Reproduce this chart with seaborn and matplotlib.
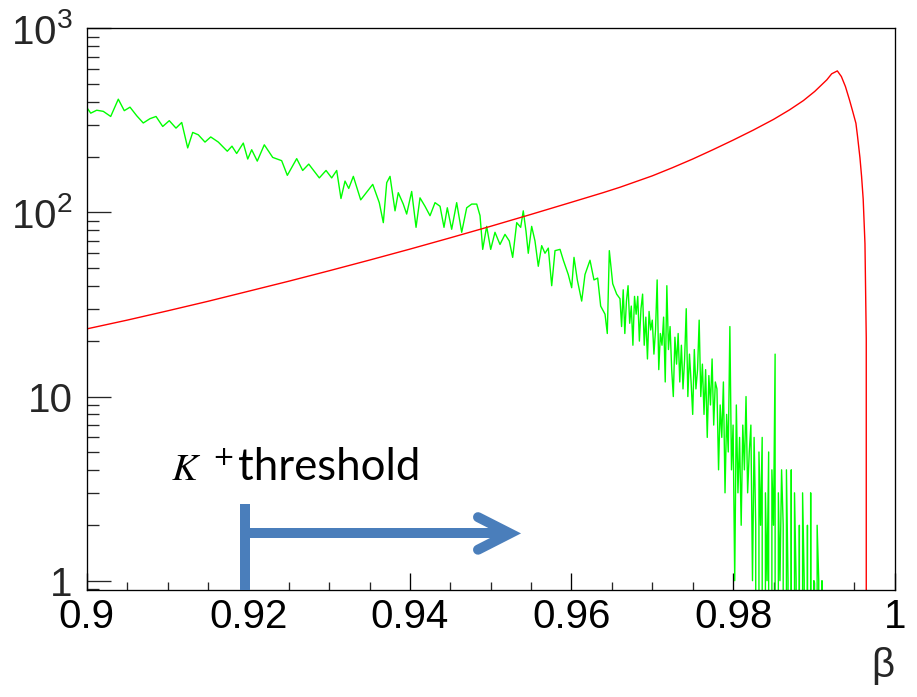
import numpy as np
import pandas as pd
import matplotlib
matplotlib.use("Agg")
import matplotlib.pyplot as plt
from matplotlib.ticker import FixedLocator, FixedFormatter, MultipleLocator, LogLocator, NullFormatter
import seaborn as sns

# ---- red: smooth beta spectrum ----
red_beta = [0.9000, 0.9050, 0.9100, 0.9150, 0.9200, 0.9250, 0.9300, 0.9350,
            0.9400, 0.9450, 0.9500, 0.9550, 0.9600, 0.9639, 0.9660, 0.9700,
            0.9725, 0.9750, 0.9775, 0.9800, 0.9825, 0.9850, 0.9870, 0.9887,
            0.9901, 0.9916, 0.9922, 0.9929, 0.9934, 0.9939, 0.9944, 0.9948,
            0.9952, 0.9954, 0.9957, 0.9959, 0.9961, 0.99632, 0.99648, 0.99673,
            1.0000]
red_counts = [23.3, 26.0, 29.2, 32.9, 37.3, 42.3, 48.2, 55.1,
              63.2, 72.8, 84.1, 97.6, 113.6, 128.0, 137.0, 158.0,
              175.0, 195.0, 219.0, 247.0, 280.0, 320.0, 361.0, 405.0,
              454.0, 525.0, 566.0, 587.0, 547.0, 483.0, 409.0, 354.0,
              305.0, 259.0, 198.0, 157.0, 118.0, 67.6, 20.7, 0.0,
              0.0]

# ---- green: coarse region ----
green_beta_coarse = [
    0.90000, 0.90050, 0.90124, 0.90205, 0.90297, 0.90391, 0.90465, 0.90536,
    0.90619, 0.90700, 0.90783, 0.90858, 0.90941, 0.91022, 0.91105, 0.91176,
    0.91250, 0.91312, 0.91381, 0.91464, 0.91535, 0.91629, 0.91740, 0.91798,
    0.91856, 0.91938, 0.91993, 0.92042, 0.92111, 0.92198, 0.92302, 0.92413,
    0.92483, 0.92599, 0.92673, 0.92748, 0.92879, 0.92962, 0.93032, 0.93094,
    0.93147, 0.93197, 0.93243, 0.93300, 0.93391, 0.93540, 0.93621, 0.93671,
    0.93713, 0.93754, 0.93787, 0.93816, 0.93856, 0.93918, 0.93960, 0.94022,
    0.94076, 0.94125, 0.94187, 0.94249, 0.94311, 0.94373, 0.94422, 0.94463,
    0.94517, 0.94579, 0.94641, 0.94703, 0.94765, 0.94827, 0.94868, 0.94901,
    0.94950, 0.95000, 0.95053, 0.95115, 0.95177, 0.95230, 0.95272, 0.95322,
    0.95371, 0.95403, 0.95437, 0.95465, 0.95507, 0.95548, 0.95589, 0.95631,
    0.95672, 0.95713, 0.95755, 0.95796, 0.95858, 0.95899, 0.95960, 0.96002,
    0.96031, 0.96072, 0.96126, 0.96167, 0.96229, 0.96278, 0.96324, 0.96361,
    0.96415, 0.96443, 0.96468, 0.96510, 0.96559]
green_counts_coarse = [
    372, 346, 359, 354, 332, 412, 357, 373,
    335, 306, 323, 332, 293, 315, 287, 308,
    224, 272, 264, 241, 257, 241, 215, 229,
    209, 238, 195, 219, 190, 233, 199, 191,
    159, 196, 169, 183, 154, 169, 154, 169,
    119, 148, 135, 157, 117, 142, 113, 88,
    145, 157, 125, 102, 128, 111, 98, 130,
    83, 120, 108, 96, 113, 108, 83, 106,
    81, 113, 78, 106, 111, 111, 96, 63,
    84, 63, 78, 67, 76, 70, 57, 88,
    83, 102, 79, 60, 84, 70, 51, 66,
    60, 64, 40, 62, 63, 55, 46, 39,
    57, 43, 33, 46, 55, 43, 44, 31,
    28, 22, 62, 41, 36]

# ---- green: fine-binned tail (uniform bins) ----
green_fine_start = 0.9660
green_fine_width = 0.0002
green_counts_fine = [
    34, 24, 38, 22, 33, 40, 25, 31, 19, 35,
    28, 35, 20, 30, 36, 19, 27, 16, 29, 23,
    26, 17, 23, 43, 14, 22, 19, 27, 12, 40,
    18, 24, 14, 10, 21, 15, 22, 12, 19, 11,
    16, 30, 10, 17, 12, 8, 18, 11, 14, 26,
    10, 15, 8, 14, 6, 13, 9, 16, 7, 12,
    11, 4, 9, 6, 12, 3, 8, 5, 24, 4,
    7, 1, 9, 3, 6, 2, 7, 4, 10, 3,
    5, 7, 1, 6, 2, 0, 5, 2, 6, 0,
    3, 1, 5, 0, 4, 2, 17, 0, 3, 1,
    4, 2, 0, 4, 1, 0, 4, 0, 3, 1,
    0, 2, 0, 3, 1, 0, 2, 0, 3, 0,
    1, 0, 2, 1, 0, 1, 0, 0, 0, 0]

xtick_values = [0.90, 0.92, 0.94, 0.96, 0.98, 1.00]
xtick_labels = ["0.9", "0.92", "0.94", "0.96", "0.98", "1"]
ytick_values = [1, 10, 100, 1000]
ytick_labels = ["1", "10", r"$\mathdefault{10^{2}}$", r"$\mathdefault{10^{3}}$"]

green_beta_fine = np.round(green_fine_start + green_fine_width * np.arange(len(green_counts_fine)), 5)
green = pd.DataFrame({
    "beta": np.concatenate([green_beta_coarse, green_beta_fine]),
    "counts": np.concatenate([green_counts_coarse, green_counts_fine]).astype(float),
})
red = pd.DataFrame({"beta": red_beta, "counts": red_counts})

sns.set_style("white")
plt.rcParams["font.family"] = ["Liberation Sans", "DejaVu Sans"]
plt.rcParams["mathtext.default"] = "regular"

fig = plt.figure(figsize=(9.17, 6.97), dpi=100)
ax = fig.add_axes([86.7 / 917, 1 - 590 / 697, (894.7 - 86.7) / 917, (590 - 28.3) / 697])

sns.lineplot(data=green, x="beta", y="counts", ax=ax, color="#00ff00",
             linewidth=1.0, estimator=None, sort=False, errorbar=None)
sns.lineplot(data=red, x="beta", y="counts", ax=ax, color="#ff0000",
             linewidth=1.0, estimator=None, sort=False, errorbar=None)

ax.set_yscale("log")
ax.set_xlim(0.9, 1.0)
ax.set_ylim(0.89, 1000)

ax.xaxis.set_major_locator(FixedLocator(xtick_values))
ax.xaxis.set_major_formatter(FixedFormatter(xtick_labels))
ax.xaxis.set_minor_locator(MultipleLocator(0.005))
ax.yaxis.set_major_locator(FixedLocator(ytick_values))
ax.yaxis.set_major_formatter(FixedFormatter(ytick_labels))
ax.yaxis.set_minor_locator(LogLocator(base=10, subs=np.arange(2, 10)))
ax.yaxis.set_minor_formatter(NullFormatter())

ax.tick_params(axis="x", which="major", direction="in", length=12.2, width=0.95,
               labelsize=29, pad=6, top=False, bottom=True, colors="black")
ax.tick_params(axis="x", which="minor", direction="in", length=6.1, width=0.95,
               top=False, bottom=True)
ax.tick_params(axis="y", which="major", direction="in", length=17.3, width=0.95,
               labelsize=29, pad=10, left=True, right=False)
ax.tick_params(axis="y", which="minor", direction="in", length=8.6, width=0.95,
               left=True, right=False)
for s in ax.spines.values():
    s.set_visible(True)
    s.set_color("black")
    s.set_linewidth(0.95)

ax.set_ylabel("")
ax.set_xlabel("β", loc="right", fontsize=29, labelpad=8)

# threshold marker and arrow
blue = "#4a7ebb"
ax.plot([0.91962, 0.91962], [0.89, 2.624], color=blue, lw=7.2,
        solid_capstyle="butt", clip_on=False, zorder=5)
ax.plot([0.91962, 0.9524], [1.806, 1.806], color=blue, lw=7.2,
        solid_capstyle="butt", zorder=5)
ax.plot([0.94843, 0.95239, 0.94843], [2.213, 1.806, 1.473], color=blue, lw=7.2,
        solid_capstyle="round", solid_joinstyle="miter", zorder=5)

ax.text(0.91040, 3.51, r"$\mathit{K}$", fontsize=28, math_fontfamily="stix",
        va="baseline", ha="left", color="black")
ax.text(0.91560, 4.26, "+", fontsize=19, family=["DejaVu Sans"],
        va="baseline", ha="left", color="black")
ax.text(0.91873, 3.51, "threshold", fontsize=31.5, family=["Lato", "DejaVu Sans"],
        va="baseline", ha="left", color="black")

fig.savefig("out.png", dpi=100, facecolor="white")
